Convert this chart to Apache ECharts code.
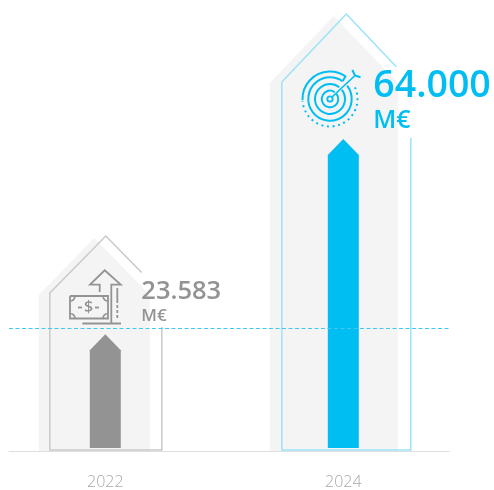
<!DOCTYPE html>
<html>
<head>
<meta charset="utf-8">
<style>
  html, body { margin: 0; padding: 0; background: #fff; }
  #chart { width: 494px; height: 490px; }
</style>
<script src="https://cdn.jsdelivr.net/npm/echarts@6/dist/echarts.min.js"></script>
</head>
<body>
<div id="chart"></div>
<script>
  const years = [2022, 2024]
  const values = [23583, 64000]
  const outlineTops = [43900, 89900]
  const ghostTops = [43500, 89500]
  const referenceValue = [24750]
  const valueLabels = ['23.583', '64.000']
  const unitLabel = 'M€'

  const GREY = '#939393'
  const BLUE = '#00bef2'
  const FONT = '"Open Sans", sans-serif'
  const colors = [GREY, BLUE]
  const outlineColors = ['#c9c9c9', '#9be3f9']

  // pixel offsets of the house shapes, one entry per year
  const ghostShape = { dx: [-11, -9.5], half: [55.5, 64], drop: [57, 67] }
  const outlineShape = { dx: [0.5, 3], half: [56, 64.5], drop: [57, 68], cut: [0.64, 0.775], resume: [91, 124] }
  const labelShape = {
    x: [36, 30],
    valueDy: [-42, -53],
    unitDy: [-18, -18],
    valueSize: [25.5, 37.5],
    unitSize: [17, 25]
  }

  const rows = years.map((y, i) => [y, values[i]])

  function ghostItem (params, api) {
    const i = params.dataIndex
    const top = api.coord([years[i], ghostTops[i]])
    const base = api.coord([years[i], -620])
    const cx = top[0] + ghostShape.dx[i]
    const h = ghostShape.half[i]
    const d = ghostShape.drop[i]
    return {
      type: 'polygon',
      shape: { points: [[cx, top[1]], [cx + h, top[1] + d], [cx + h, base[1]], [cx - h, base[1]], [cx - h, top[1] + d]] },
      style: { fill: '#f4f4f4' }
    }
  }

  function outlineItem (params, api) {
    const i = params.dataIndex
    const top = api.coord([years[i], outlineTops[i]])
    const base = api.coord([years[i], -620])[1] - 1
    const cx = top[0] + outlineShape.dx[i]
    const h = outlineShape.half[i]
    const d = outlineShape.drop[i]
    const c = outlineShape.cut[i]
    const y0 = top[1]
    return {
      type: 'polyline',
      shape: { points: [[cx + h * c, y0 + d * c], [cx, y0], [cx - h, y0 + d], [cx - h, base], [cx + h, base], [cx + h, y0 + outlineShape.resume[i]]] },
      style: { fill: 'none', stroke: outlineColors[i], lineWidth: 1.5 }
    }
  }

  function arrowItem (params, api) {
    const i = params.dataIndex
    const top = api.coord([api.value(0), api.value(1)])
    const base = api.coord([api.value(0), 0])
    const cx = top[0]
    return {
      type: 'polygon',
      shape: { points: [[cx, top[1]], [cx + 15.5, top[1] + 16], [cx + 15.5, base[1]], [cx - 15.5, base[1]], [cx - 15.5, top[1] + 16]] },
      style: { fill: colors[i] }
    }
  }

  function referenceItem (params, api) {
    const y = api.coord([2022, api.value(0)])[1]
    return {
      type: 'line',
      shape: { x1: params.coordSys.x, y1: y, x2: params.coordSys.x + params.coordSys.width, y2: y },
      style: { stroke: '#3fc8f4', lineWidth: 1.2, lineDash: [4, 2.5] }
    }
  }

  function labelItem (params, api) {
    const i = params.dataIndex
    const top = api.coord([api.value(0), api.value(1)])
    const x = top[0] + labelShape.x[i]
    return {
      type: 'group',
      children: [{
        type: 'text',
        style: {
          x: x,
          y: top[1] + labelShape.valueDy[i],
          text: valueLabels[i],
          fill: colors[i],
          font: '600 ' + labelShape.valueSize[i] + 'px ' + FONT,
          verticalAlign: 'middle'
        }
      }, {
        type: 'text',
        style: {
          x: x,
          y: top[1] + labelShape.unitDy[i],
          text: unitLabel,
          fill: colors[i],
          font: '600 ' + labelShape.unitSize[i] + 'px ' + FONT,
          verticalAlign: 'middle'
        }
      }]
    }
  }

  // decorative icons
  function seg (points, color, dash, width) {
    return {
      type: 'polyline',
      z: 20,
      silent: true,
      shape: { points: points },
      style: { fill: 'none', stroke: color, lineWidth: width || 1.8, lineDash: dash || null }
    }
  }

  function arc (cx, cy, r, from, to, color, width, dash) {
    return {
      type: 'arc',
      z: 20,
      silent: true,
      shape: { cx: cx, cy: cy, r: r, startAngle: from * Math.PI / 180, endAngle: to * Math.PI / 180, clockwise: true },
      style: { fill: 'none', stroke: color, lineWidth: width, lineDash: dash || null }
    }
  }

  const moneyIcon = [
    seg([[99.7, 292], [99.7, 284.7], [90, 284.7], [104.7, 270.3], [120.7, 284.7], [111.3, 284.7], [111.3, 323.5]], GREY),
    seg([[82.3, 323.5], [121, 323.5]], GREY),
    seg([[117.3, 288], [117.3, 303]], GREY),
    seg([[117.3, 305], [117.3, 319]], GREY, [3, 2]),
    seg([[70, 296], [108, 296], [108, 318.5], [70, 318.5], [70, 296]], GREY),
    arc(70, 296, 5, 0, 90, GREY, 1.7),
    arc(108, 296, 5, 90, 180, GREY, 1.7),
    arc(70, 318.5, 5, 270, 360, GREY, 1.7),
    arc(108, 318.5, 5, 180, 270, GREY, 1.7),
    seg([[78, 307.5], [82, 307.5]], GREY),
    seg([[95, 307.5], [99, 307.5]], GREY),
    {
      type: 'text',
      z: 20,
      silent: true,
      style: { x: 88.5, y: 307.5, text: '$', fill: GREY, font: '600 16px ' + FONT, align: 'center', verticalAlign: 'middle' }
    }
  ]

  const targetIcon = [
    arc(330, 99, 2.7, 0, 360, BLUE, 1.8),
    arc(330, 99, 8.3, -38, 305, BLUE, 2),
    arc(330, 99, 15, -38, 308, BLUE, 2),
    arc(330, 99, 21.7, -38, 305, BLUE, 2),
    arc(330, 99, 27.5, 178, 305, BLUE, 2),
    seg([[345.8, 76], [342.5, 81.2]], BLUE, null, 2),
    arc(330, 99, 27.5, -25, 176, BLUE, 2, [2, 3.6]),
    seg([[331.5, 97.5], [355, 75.5]], BLUE, null, 1.7),
    seg([[352.3, 70], [355, 75.5], [360.5, 77.3]], BLUE, null, 2)
  ]

  const chart = echarts.init(document.getElementById('chart'), null, { renderer: 'canvas' })

  chart.setOption({
    animation: false,
    backgroundColor: '#fff',
    grid: { left: 9, right: 45, top: 0, bottom: 39 },
    xAxis: {
      type: 'value',
      min: 2022 - 96.3 / 119,
      max: 2024 + 105.7 / 119,
      splitLine: { show: false },
      axisTick: { show: false },
      axisLine: { show: true, onZero: false, lineStyle: { color: '#dedede', width: 1 } },
      axisLabel: {
        customValues: years,
        formatter: v => String(v),
        color: '#a8a8a8',
        fontFamily: FONT,
        fontWeight: 300,
        fontSize: 16,
        margin: 23
      }
    },
    yAxis: {
      type: 'value',
      min: -620,
      max: 92800,
      show: false,
      splitLine: { show: false }
    },
    series: [
      { type: 'custom', name: 'ghost', z: 1, data: rows, renderItem: ghostItem, silent: true },
      { type: 'custom', name: 'outline', z: 2, data: rows, renderItem: outlineItem, silent: true },
      { type: 'custom', name: 'value', z: 3, data: rows, renderItem: arrowItem, silent: true },
      { type: 'custom', name: 'reference', z: 4, data: referenceValue.map(v => [v]), encode: { y: 0 }, renderItem: referenceItem, silent: true },
      { type: 'custom', name: 'label', z: 5, data: rows, renderItem: labelItem, silent: true }
    ],
    graphic: { elements: moneyIcon.concat(targetIcon) }
  })
</script>
</body>
</html>
